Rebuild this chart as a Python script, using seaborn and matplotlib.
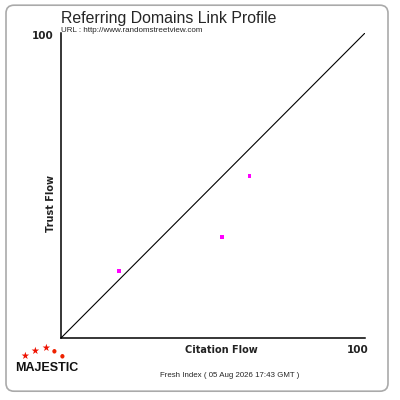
import matplotlib
matplotlib.use('Agg')
import matplotlib.pyplot as plt
import seaborn as sns
import pandas as pd
from matplotlib.patches import FancyBboxPatch

# values
citation_flow = [19, 53, 62]
trust_flow = [22, 33, 53]
diag = [0, 100]

df = pd.DataFrame({'cf': citation_flow, 'tf': trust_flow})

sns.set_style('white')
plt.rcParams['font.family'] = ['Liberation Sans', 'DejaVu Sans']

fig = plt.figure(figsize=(4, 4), dpi=100)
fig.patches.append(FancyBboxPatch((0.015, 0.022), 0.955, 0.965,
                                  boxstyle='round,pad=0,rounding_size=0.02',
                                  transform=fig.transFigure, fc='none',
                                  ec='#aaaaaa', lw=1.2, zorder=5))

ax = fig.add_axes([0.1525, 0.155, 0.76, 0.7625])
ax.set_facecolor('none')
sns.lineplot(x=diag, y=diag, ax=ax, color='black', lw=0.8)
sns.scatterplot(data=df, x='cf', y='tf', ax=ax, marker='s', s=8,
                color='#ff00ff', edgecolor='none', zorder=3)
ax.set_xlim(0, 100)
ax.set_ylim(0, 100)
ax.set_xticks([])
ax.set_yticks([])
ax.set_xlabel('')
ax.set_ylabel('')
for s in ['top', 'right']:
    ax.spines[s].set_visible(False)
for s in ['left', 'bottom']:
    ax.spines[s].set_color('black')
    ax.spines[s].set_linewidth(1.1)

# texts
fig.text(0.152, 0.943, 'Referring Domains Link Profile', fontsize=11.4)
fig.text(0.152, 0.92, 'URL : http://www.randomstreetview.com', fontsize=5.8)
fig.text(0.135, 0.903, '100', fontsize=7.5, weight='bold', ha='right',
         family='DejaVu Sans', color='#222222')
fig.text(0.893, 0.117, '100', fontsize=7.5, weight='bold', ha='center',
         family='DejaVu Sans', color='#222222')
fig.text(0.553, 0.117, 'Citation Flow', fontsize=7.0, weight='bold',
         ha='center', family='DejaVu Sans', color='#222222')
fig.text(0.128, 0.49, 'Trust Flow', fontsize=7.0, weight='bold',
         rotation=90, va='center', ha='center', family='DejaVu Sans',
         color='#222222')
fig.text(0.575, 0.057, 'Fresh Index ( 05 Aug 2026 17:43 GMT )', fontsize=5.7,
         ha='center')

# logo
fig.text(0.117, 0.073, 'MAJESTIC', fontsize=9, weight='bold', ha='center',
         color='#111111')
for x, y in [(0.062, 0.11), (0.088, 0.122), (0.115, 0.13)]:
    fig.text(x, y, '\u2605', fontsize=7, color='#ee1100', ha='center',
             va='center', family='DejaVu Sans')
for x, y in [(0.136, 0.123), (0.156, 0.11)]:
    fig.text(x, y, '\u25cf', fontsize=4, color='#ee2200', ha='center',
             va='center', family='DejaVu Sans')

fig.savefig('out.png', dpi=100)
